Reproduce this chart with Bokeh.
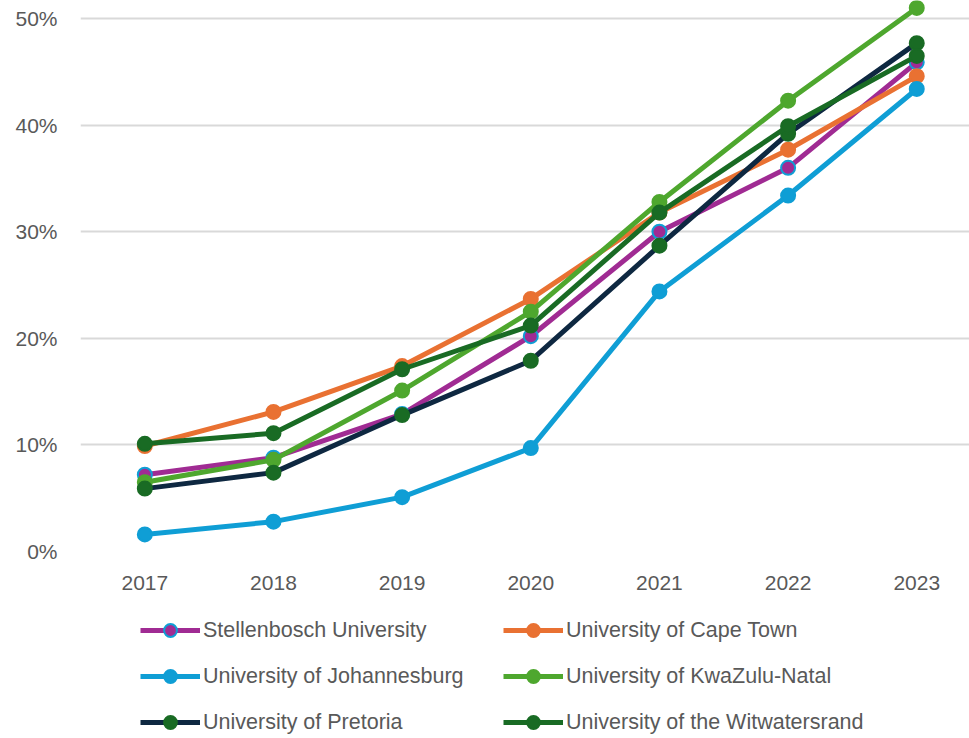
from bokeh.plotting import figure
from bokeh.layouts import column
from bokeh.models import Range1d, FixedTicker, NumeralTickFormatter, Legend, LegendItem
from bokeh.embed import file_html
from bokeh.resources import INLINE

years = [2017, 2018, 2019, 2020, 2021, 2022, 2023]
year_labels = ["2017", "2018", "2019", "2020", "2021", "2022", "2023"]
pct_ticks = [0.0, 0.1, 0.2, 0.3, 0.4, 0.5]

stellenbosch = [0.072, 0.088, 0.129, 0.202, 0.300, 0.360, 0.459]
cape_town = [0.099, 0.131, 0.174, 0.237, 0.318, 0.377, 0.446]
johannesburg = [0.016, 0.028, 0.051, 0.097, 0.244, 0.334, 0.434]
kwazulu_natal = [0.065, 0.086, 0.151, 0.225, 0.328, 0.423, 0.510]
pretoria = [0.059, 0.074, 0.128, 0.179, 0.287, 0.392, 0.477]
witwatersrand = [0.101, 0.111, 0.171, 0.212, 0.318, 0.399, 0.465]

series = [
    ("Stellenbosch University", stellenbosch, "#A02B93", "#A02B93", "#0F9ED5"),
    ("University of Cape Town", cape_town, "#E97132", "#E97132", "#E97132"),
    ("University of Johannesburg", johannesburg, "#0F9ED5", "#0F9ED5", "#0F9ED5"),
    ("University of KwaZulu-Natal", kwazulu_natal, "#4EA72E", "#4EA72E", "#4EA72E"),
    ("University of Pretoria", pretoria, "#0E2841", "#196B24", "#196B24"),
    ("University of the Witwatersrand", witwatersrand, "#196B24", "#196B24", "#196B24"),
]

FONT = "Liberation Sans"
GRAY = "#595959"

# ---- main chart ----
p = figure(width=969, height=600, output_backend="svg", toolbar_location=None,
           x_range=Range1d(2016.5, 2023.41), y_range=Range1d(0, 0.517),
           min_border_left=80, min_border_right=0, min_border_top=0,
           min_border_bottom=49)
p.outline_line_color = None
p.background_fill_color = "white"
p.border_fill_color = "white"

p.xgrid.grid_line_color = None
p.ygrid.grid_line_color = "#D9D9D9"
p.ygrid.grid_line_width = 2
p.ygrid.ticker = FixedTicker(ticks=pct_ticks)

p.yaxis.ticker = FixedTicker(ticks=pct_ticks)
p.yaxis.formatter = NumeralTickFormatter(format="0%")
p.xaxis.ticker = FixedTicker(ticks=years)
p.xaxis.major_label_overrides = {y: l for y, l in zip(years, year_labels)}

for ax in (p.xaxis[0], p.yaxis[0]):
    ax.axis_line_color = None
    ax.major_tick_line_color = None
    ax.minor_tick_line_color = None
    ax.major_label_text_font = FONT
    ax.major_label_text_font_size = "21px"
    ax.major_label_text_color = GRAY
p.yaxis.major_tick_out = 0
p.yaxis.major_label_standoff = 23
p.xaxis.major_label_standoff = 18

for name, vals, lc, fc, oc in series:
    p.line(years, vals, line_color=lc, line_width=5)
    p.scatter(years, vals, size=14, fill_color=fc, line_color=oc, line_width=2)

# ---- legend strip (same series, plotted outside its visible range) ----
q = figure(width=969, height=138, output_backend="svg", toolbar_location=None,
           x_range=Range1d(0, 1), y_range=Range1d(0, 1),
           x_axis_location=None, y_axis_location=None, min_border=0)
q.outline_line_color = None
q.xgrid.grid_line_color = None
q.ygrid.grid_line_color = None
q.background_fill_color = "white"
q.border_fill_color = "white"

items = []
for name, vals, lc, fc, oc in series:
    r1 = q.line(years, vals, line_color=lc, line_width=5)
    r2 = q.scatter(years, vals, size=14, fill_color=fc, line_color=oc, line_width=2)
    items.append(LegendItem(label=name, renderers=[r1, r2]))

order = [0, 2, 4, 1, 3, 5]  # legend fills column by column
legend = Legend(items=[items[i] for i in order], ncols=2, location=(60, 0))
legend.border_line_color = None
legend.background_fill_alpha = 0
legend.margin = 0
legend.padding = 0
legend.spacing = 14
legend.glyph_width = 60
legend.glyph_height = 32
legend.label_standoff = 3
legend.label_width = 286
legend.label_text_font = FONT
legend.label_text_font_size = "21.5px"
legend.label_text_color = GRAY
q.add_layout(legend, "center")

layout = column(p, q, spacing=0)
open("out.html", "w").write(file_html(layout, INLINE))
